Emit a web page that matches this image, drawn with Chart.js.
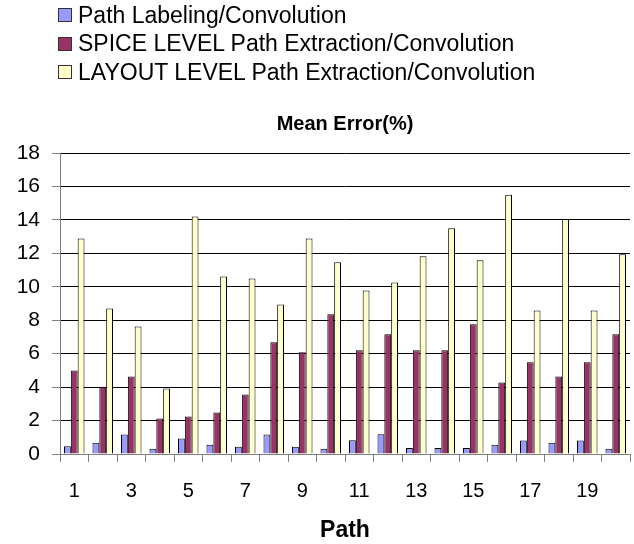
<!DOCTYPE html>
<html>
<head>
<meta charset="utf-8">
<script src="https://cdn.jsdelivr.net/npm/chart.js@4"></script>
<style>
  body { margin: 0; background: #fff; }
  #wrap { position: relative; width: 634px; height: 544px; }
  #legend { position: absolute; left: 58px; top: 1px; font-family: "Liberation Sans", Arial, sans-serif; font-size: 23px; color: #000; }
  .item { height: 28.5px; display: flex; align-items: center; white-space: nowrap; }
  .box { width: 12px; height: 12px; border: 1px solid #333; margin-right: 6px; }
</style>
</head>
<body>
<div id="wrap">
  <canvas id="myChart" width="634" height="544"></canvas>
  <div id="legend"></div>
</div>
<script>
// categories: path number 1..20
var paths = ['1', '2', '3', '4', '5', '6', '7', '8', '9', '10',
             '11', '12', '13', '14', '15', '16', '17', '18', '19', '20'];

// mean error (%)
var labelingErr = [0.46, 0.68, 1.16, 0.32, 0.92, 0.56, 0.44, 1.16, 0.44, 0.32,
                   0.82, 1.18, 0.36, 0.36, 0.36, 0.56, 0.80, 0.68, 0.80, 0.32];
var spiceErr = [5.0, 4.02, 4.64, 2.12, 2.24, 2.48, 3.56, 6.68, 6.08, 8.36,
                6.2, 7.16, 6.2, 6.2, 7.76, 4.28, 5.48, 4.64, 5.48, 7.16];
var layoutErr = [12.88, 8.7, 7.62, 3.92, 14.2, 10.62, 10.5, 8.94, 12.88, 11.46,
                 9.78, 10.26, 11.82, 13.5, 11.58, 15.5, 8.58, 14.06, 8.58, 11.94];

var yTicks = [0, 2, 4, 6, 8, 10, 12, 14, 16, 18];

var seriesNames = ['Path Labeling/Convolution',
                   'SPICE LEVEL Path Extraction/Convolution',
                   'LAYOUT LEVEL Path Extraction/Convolution'];
var seriesColors = ['#9999FF', '#993366', '#FFFFCC'];

var font = '"Liberation Sans", Arial, sans-serif';

var ctx = document.getElementById('myChart').getContext('2d');
var chart = new Chart(ctx, {
    type: 'bar',
    data: {
        labels: paths,
        datasets: [labelingErr, spiceErr, layoutErr].map(function (vals, i) {
            return {
                label: seriesNames[i],
                data: vals,
                backgroundColor: seriesColors[i],
                borderColor: '#000',
                borderWidth: 1,
                categoryPercentage: 0.72,
                barPercentage: 1.0
            };
        })
    },
    options: {
        responsive: false,
        animation: false,
        layout: { padding: { top: 112, right: 4, bottom: 0, left: 0 } },
        plugins: {
            legend: { display: false },
            tooltip: { enabled: false },
            title: {
                display: true,
                fullSize: false,   // centre over the plot, not the whole canvas
                text: 'Mean Error(%)',
                color: '#000',
                font: { family: font, size: 20, weight: 'bold' },
                padding: { top: 0, bottom: 17 }
            }
        },
        scales: {
            x: {
                afterFit: function (axis) { axis.height = 90; },
                grid: { display: true, drawOnChartArea: false, color: '#808080', tickLength: 8, offset: true },
                border: { color: '#808080' },
                ticks: {
                    color: '#000',
                    font: { family: font, size: 20 },
                    padding: 17,
                    autoSkip: false,
                    maxRotation: 0,
                    callback: function (v, i) { return i % 2 === 0 ? paths[i] : ''; }
                },
                title: {
                    display: true,
                    text: 'Path',
                    color: '#000',
                    font: { family: font, size: 23, weight: 'bold' },
                    padding: { top: 0, bottom: 0 }
                }
            },
            y: {
                min: 0,
                max: 18,
                afterBuildTicks: function (axis) {
                    axis.ticks = yTicks.map(function (v) { return { value: v }; });
                },
                afterFit: function (axis) { axis.width = 60; },
                grid: { color: '#000', tickColor: '#808080', tickLength: 8 },
                border: { color: '#808080' },
                ticks: {
                    color: '#000',
                    font: { family: font, size: 21 },
                    padding: 12
                }
            }
        }
    }
});

// legend as plain text next to coloured boxes, stacked like the original
var legendEl = document.getElementById('legend');
seriesNames.forEach(function (name, i) {
    var row = document.createElement('div');
    row.className = 'item';
    var box = document.createElement('span');
    box.className = 'box';
    box.style.background = seriesColors[i];
    var txt = document.createElement('span');
    txt.textContent = name;
    row.appendChild(box);
    row.appendChild(txt);
    legendEl.appendChild(row);
});
</script>
</body>
</html>
